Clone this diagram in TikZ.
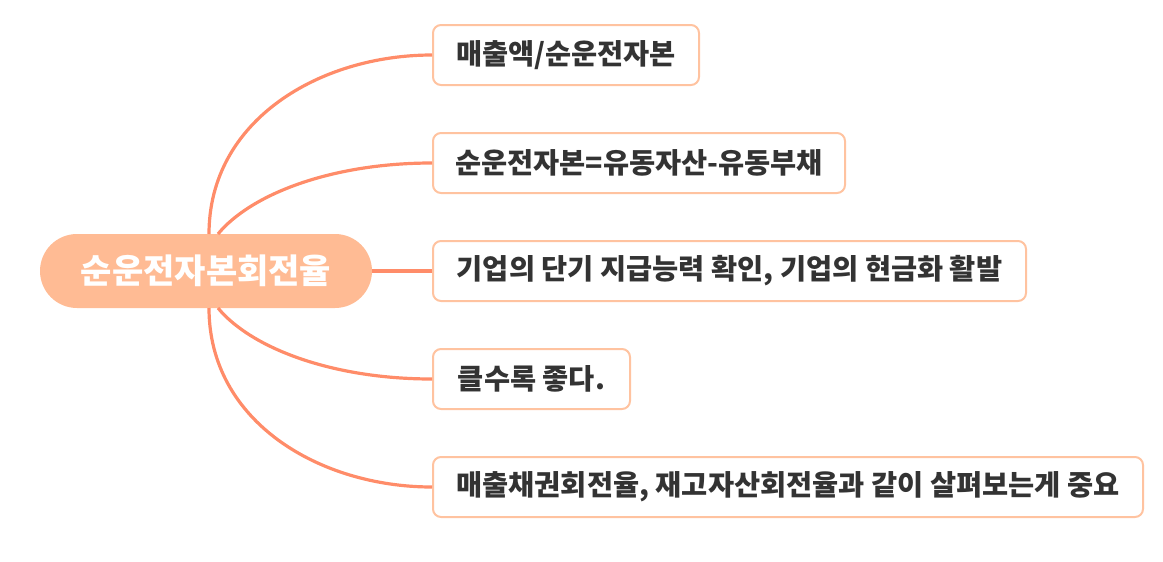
\documentclass[tikz,border=0pt]{standalone}
\usepackage{fontspec}
\newfontfamily\kr{Noto Sans CJK KR}
\definecolor{linec}{HTML}{FF8C69}
\definecolor{rootc}{HTML}{FFBB94}
\definecolor{boxc}{HTML}{FFC3A0}
\definecolor{txtc}{HTML}{333333}
\begin{document}
\begin{tikzpicture}[x=0.75pt,y=-0.75pt,
  rootbox/.style={fill=rootc, draw=none, rounded corners=27.75pt, minimum width=249pt, minimum height=55.5pt, inner sep=0pt, text=white, font=\kr\bfseries\fontsize{25.5}{30}\selectfont},
  leaf/.style={draw=boxc, line width=1.5pt, fill=white, rounded corners=6pt, minimum height=45pt, inner sep=0pt, anchor=west, text=txtc, font=\kr\bfseries\fontsize{21.3}{26}\selectfont},
  conn/.style={draw=linec, line width=2.4pt}]
\useasboundingbox (0,0) rectangle (1163,561);
\node[rootbox] (root) at (206,271) {순운전자본회전율};
\node[leaf, minimum width=199.5pt] (b1) at (432,55) {매출액/순운전자본};
\node[leaf, minimum width=309pt] (b2) at (432,163) {순운전자본=유동자산-유동부채};
\node[leaf, minimum width=444.75pt] (b3) at (432,271) {기업의 단기 지급능력 확인, 기업의 현금화 활발};
\node[leaf, minimum width=147.75pt] (b4) at (432,379) {클수록 좋다.};
\node[leaf, minimum width=532.5pt] (b5) at (432,487) {매출채권회전율, 재고자산회전율과 같이 살펴보는게 중요};
\coordinate (s1) at (209,234);
\coordinate (s2) at (218,234);
\coordinate (s4) at (218,308);
\coordinate (s5) at (209,308);
\draw[conn] (s1) .. controls (209,120) and (320,55) .. (b1.west);
\draw[conn] (s2) .. controls (250,195) and (330,163) .. (b2.west);
\draw[conn] (root.east) -- (b3.west);
\draw[conn] (s4) .. controls (250,347) and (330,379) .. (b4.west);
\draw[conn] (s5) .. controls (209,422) and (320,487) .. (b5.west);
\end{tikzpicture}
\end{document}
